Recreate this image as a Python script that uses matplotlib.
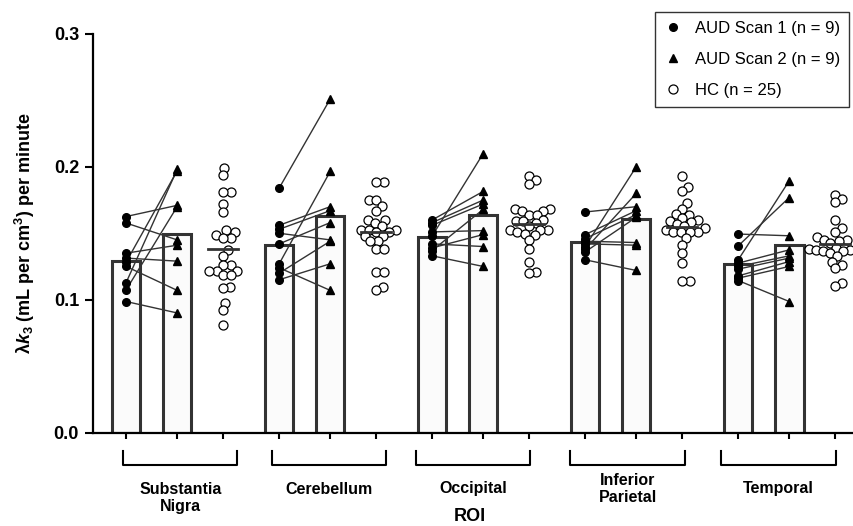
import numpy as np
import matplotlib
matplotlib.use('Agg')
import matplotlib.pyplot as plt
import matplotlib.transforms as mtransforms
from matplotlib.lines import Line2D

plt.rcParams['font.family'] = ['Liberation Sans', 'DejaVu Sans']
plt.rcParams['mathtext.fontset'] = 'custom'
plt.rcParams['mathtext.rm'] = 'Liberation Sans:bold'
plt.rcParams['mathtext.it'] = 'Liberation Sans:italic:bold'
plt.rcParams['mathtext.bf'] = 'Liberation Sans:bold'

# regions of interest
regions = ['Substantia\nNigra', 'Cerebellum', 'Occipital', 'Inferior\nParietal', 'Temporal']

# AUD subjects, scan 1 and scan 2 (same subject order -> paired lines)
sn_scan1 = [0.1626, 0.1577, 0.135, 0.1313, 0.1283, 0.125, 0.1129, 0.1074, 0.0986]
sn_scan2 = [0.171, 0.145, 0.141, 0.129, 0.197, 0.107, 0.198, 0.170, 0.090]
cb_scan1 = [0.184, 0.156, 0.153, 0.150, 0.142, 0.127, 0.124, 0.120, 0.115]
cb_scan2 = [0.251, 0.170, 0.167, 0.145, 0.158, 0.1965, 0.107, 0.144, 0.127]
oc_scan1 = [0.160, 0.158, 0.156, 0.151, 0.148, 0.142, 0.139, 0.137, 0.133]
oc_scan2 = [0.1815, 0.175, 0.172, 0.152, 0.210, 0.140, 0.149, 0.168, 0.125]
ip_scan1 = [0.166, 0.149, 0.146, 0.144, 0.142, 0.140, 0.138, 0.136, 0.130]
ip_scan2 = [0.170, 0.167, 0.164, 0.143, 0.141, 0.200, 0.180, 0.162, 0.122]
tp_scan1 = [0.1494, 0.1405, 0.130, 0.1275, 0.125, 0.123, 0.1179, 0.1162, 0.1144]
tp_scan2 = [0.1481, 0.1769, 0.1895, 0.1375, 0.133, 0.1313, 0.1287, 0.125, 0.0986]

# healthy controls
sn_hc = [0.1991, 0.1935, 0.1810, 0.1810, 0.1722, 0.1659, 0.1521, 0.1513, 0.1488, 0.1468,
         0.1468, 0.1375, 0.1330, 0.1262, 0.1262, 0.1219, 0.1219, 0.1219, 0.1187, 0.1187,
         0.1099, 0.1087, 0.0978, 0.0923, 0.0810]
cb_hc = [0.1885, 0.1885, 0.1752, 0.1752, 0.1702, 0.1671, 0.1601, 0.1601, 0.1576, 0.1551,
         0.1526, 0.1526, 0.1526, 0.1513, 0.1513, 0.1476, 0.1476, 0.1438, 0.1438, 0.1383,
         0.1383, 0.1212, 0.1212, 0.1099, 0.1074]
oc_hc = [0.1933, 0.1898, 0.1870, 0.1682, 0.1680, 0.1669, 0.1664, 0.1639, 0.1639, 0.1601,
         0.1589, 0.1589, 0.1576, 0.1556, 0.1526, 0.1526, 0.1526, 0.1513, 0.1496, 0.1488,
         0.1451, 0.1381, 0.1287, 0.1212, 0.1200]
ip_hc = [0.1933, 0.1845, 0.1815, 0.1727, 0.1682, 0.1647, 0.1639, 0.1614, 0.1601, 0.1589,
         0.1581, 0.1571, 0.1556, 0.1539, 0.1526, 0.1513, 0.1513, 0.1506, 0.1506, 0.1463,
         0.1413, 0.1355, 0.1275, 0.1142, 0.1142]
tp_hc = [0.1790, 0.1757, 0.1732, 0.1596, 0.1539, 0.1513, 0.1471, 0.1451, 0.1450, 0.1438,
         0.1426, 0.1388, 0.1380, 0.1378, 0.1375, 0.1373, 0.1370, 0.1363, 0.1350, 0.1325,
         0.1287, 0.1262, 0.1237, 0.1129, 0.1104]

scan1 = [sn_scan1, cb_scan1, oc_scan1, ip_scan1, tp_scan1]
scan2 = [sn_scan2, cb_scan2, oc_scan2, ip_scan2, tp_scan2]
hc = [sn_hc, cb_hc, oc_hc, ip_hc, tp_hc]

legend_labels = ['AUD Scan 1 (n = 9)', 'AUD Scan 2 (n = 9)', 'HC (n = 25)']

# bracket centres under each region (x units)
bracket_x = [1.06, 3.97, 6.80, 9.83, 12.79]

W, H = 854, 526
fig = plt.figure(figsize=(W / 100, H / 100), dpi=100)
ax = fig.add_axes([93 / W, (H - 432.5) / H, (W - 93) / W, 398.5 / H])
ax.set_xlim(-0.65, 14.27)
ax.set_ylim(0, 0.3)

px_x = (W - 93) / (14.27 + 0.65)   # pixels per x unit
px_y = 398.5 / 0.3                  # pixels per y unit


def swarm(vals, d=7.5):
    # simple beeswarm: offsets (x units) so circles don't pile up
    order = np.argsort(vals)
    placed = []
    offs = np.zeros(len(vals))
    for i in order:
        y = vals[i] * px_y
        near = [(xp, yp) for xp, yp in placed if abs(yp - y) < d]
        cands = [0.0]
        for xp, yp in near:
            dx = np.sqrt(d ** 2 - (yp - y) ** 2)
            cands += [xp + dx, xp - dx]
        cands.sort(key=abs)
        for c in cands:
            if all((c - xp) ** 2 + (y - yp) ** 2 >= d ** 2 - 1e-6 for xp, yp in near):
                break
        placed.append((c, y))
        offs[i] = c / px_x
    return offs


edge = '#333333'
ticks = []
for g in range(5):
    x1, x2, x3 = 3 * g, 3 * g + 1, 3 * g + 1.9
    ticks += [x1, x2, x3]
    s1 = np.array(scan1[g])
    s2 = np.array(scan2[g])
    h = np.array(hc[g])
    ax.bar([x1, x2], [s1.mean(), s2.mean()], width=0.56, color='#fbfbfb',
           edgecolor=edge, linewidth=2.2, zorder=1)
    for a, b in zip(s1, s2):
        ax.plot([x1, x2], [a, b], color=edge, lw=1.0, zorder=2)
    ax.plot(np.full(len(s1), x1), s1, 'o', color='black', ms=5.5, zorder=3)
    ax.plot(np.full(len(s2), x2), s2, '^', color='black', ms=5.5, zorder=3)
    ax.plot(x3 + swarm(h), h, 'o', mfc='white', mec='black', mew=0.9, ms=6.5, zorder=3)
    ax.plot([x3 - 0.3, x3 + 0.3], [h.mean(), h.mean()], color=edge, lw=2, zorder=4)

ax.set_xticks(ticks)
ax.set_xticklabels([])
ax.set_yticks([0.0, 0.1, 0.2, 0.3])
ax.set_yticklabels(['0.0', '0.1', '0.2', '0.3'], fontsize=13, fontweight='bold')
ax.tick_params(axis='x', direction='out', length=4, width=1.5)
ax.tick_params(axis='y', direction='out', length=6, width=1.5, pad=4)
for s in ['top', 'right']:
    ax.spines[s].set_visible(False)
for s in ['left', 'bottom']:
    ax.spines[s].set_linewidth(1.6)

ax.set_ylabel('λ$\\mathit{k}_3$ (mL per cm$^3$) per minute', fontsize=13,
              fontweight='bold', labelpad=12)

# region brackets and names below the axis
trans = mtransforms.blended_transform_factory(ax.transData, ax.transAxes)
top_y, bot_y = -(451 - 432.5) / 398.5, -(465 - 432.5) / 398.5
bw = 2.24
for c, name in zip(bracket_x, regions):
    ax.plot([c - bw / 2, c - bw / 2, c + bw / 2, c + bw / 2],
            [top_y, bot_y, bot_y, top_y], color='black', lw=1.5,
            transform=trans, clip_on=False)
    yc = -(498 - 432.5) / 398.5 if name.startswith('Substantia') else -(489 - 432.5) / 398.5
    ax.text(c, yc, name, transform=trans, ha='center', va='center',
            fontsize=11.5, fontweight='bold', linespacing=1.1)

fig.text(0.55, 1 / H, 'ROI', ha='center', va='bottom', fontsize=13, fontweight='bold')

handles = [Line2D([], [], ls='none', marker='o', color='black', ms=5.5),
           Line2D([], [], ls='none', marker='^', color='black', ms=5.5),
           Line2D([], [], ls='none', marker='o', mfc='white', mec='black', mew=0.9, ms=6.5)]
leg = fig.legend(handles, legend_labels, loc='upper right',
                 bbox_to_anchor=(849 / W, 1 - 12 / H), fontsize=12, frameon=True,
                 fancybox=False, edgecolor='black', labelspacing=0.95,
                 handlelength=1.0, handletextpad=0.8, borderpad=0.55,
                 borderaxespad=0)
leg.get_frame().set_linewidth(1.0)

fig.savefig('out.png', dpi=100)
